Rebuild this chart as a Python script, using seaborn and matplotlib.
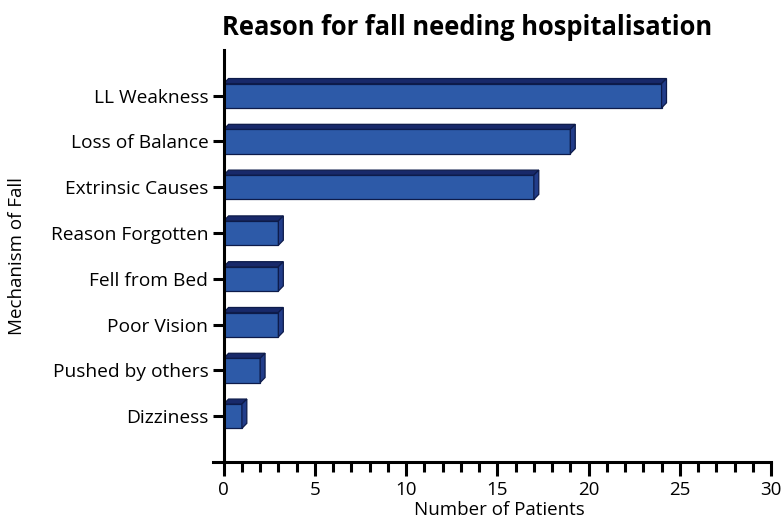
import matplotlib
matplotlib.use("Agg")
import matplotlib.pyplot as plt
from matplotlib.patches import Polygon
from matplotlib.ticker import MultipleLocator
import seaborn as sns
import pandas as pd

categories = ["LL Weakness", "Loss of Balance", "Extrinsic Causes", "Reason Forgotten",
              "Fell from Bed", "Poor Vision", "Pushed by others", "Dizziness"]
patients = [24, 19, 17, 3, 3, 3, 2, 1]
x_ticks = [0, 5, 10, 15, 20, 25, 30]

sns.set_style("ticks")
plt.rcParams["font.family"] = ["Open Sans", "DejaVu Sans"]
plt.rcParams["text.color"] = "black"
plt.rcParams["axes.labelcolor"] = "black"
plt.rcParams["xtick.color"] = "black"
plt.rcParams["ytick.color"] = "black"
plt.rcParams["axes.edgecolor"] = "black"

df = pd.DataFrame({"Mechanism": categories, "Patients": patients})

fig = plt.figure(figsize=(7.82, 5.2), dpi=100)
ax = fig.add_axes([0.272, 0.1115, 0.714, 0.7925])

front = "#2d5aa8"
top_col = "#18296a"
side_col = "#223d8a"
edge = "#0d1b4a"

sns.barplot(data=df, x="Patients", y="Mechanism", orient="h", color=front,
            width=0.53, saturation=1, edgecolor=edge, linewidth=0.9, ax=ax)

ax.set_xlim(-0.6, 30)
ax.set_ylim(8, -1)

# extruded top and side faces for each bar
dx, dy = 0.27, 0.11
for p in list(ax.patches):
    x0, y0 = p.get_x(), p.get_y()
    w, h = p.get_width(), p.get_height()
    top = Polygon([(x0, y0), (x0 + w, y0), (x0 + w + dx, y0 - dy), (x0 + dx, y0 - dy)],
                  closed=True, facecolor=top_col, edgecolor=edge, linewidth=0.9, zorder=p.get_zorder())
    side = Polygon([(x0 + w, y0), (x0 + w + dx, y0 - dy), (x0 + w + dx, y0 + h - dy), (x0 + w, y0 + h)],
                   closed=True, facecolor=side_col, edgecolor=edge, linewidth=0.9, zorder=p.get_zorder())
    ax.add_patch(top)
    ax.add_patch(side)

sns.despine(ax=ax)
ax.spines["left"].set_position(("data", 0))
ax.spines["left"].set_bounds(8, -1)
ax.spines["left"].set_linewidth(2.2)
ax.spines["bottom"].set_linewidth(2.2)

ax.set_xticks(x_ticks)
ax.xaxis.set_minor_locator(MultipleLocator(1))
ax.tick_params(axis="x", which="major", length=10, width=2.2, labelsize=13.5, pad=4)
ax.tick_params(axis="x", which="minor", length=7, width=2.2)
ax.tick_params(axis="y", length=8, width=2.2, labelsize=13.8, pad=3)

ax.set_xlabel("Number of Patients", fontsize=13.5)
ax.set_ylabel("Mechanism of Fall", fontsize=13.5)
ax.xaxis.set_label_coords(0.513, -0.095)
ax.yaxis.set_label_coords(-0.334, 0.5)
fig.text(0.597, 0.947, "Reason for fall needing hospitalisation", ha="center", va="center",
         fontsize=18.4, fontweight="bold")

fig.savefig("out.png", dpi=100)
